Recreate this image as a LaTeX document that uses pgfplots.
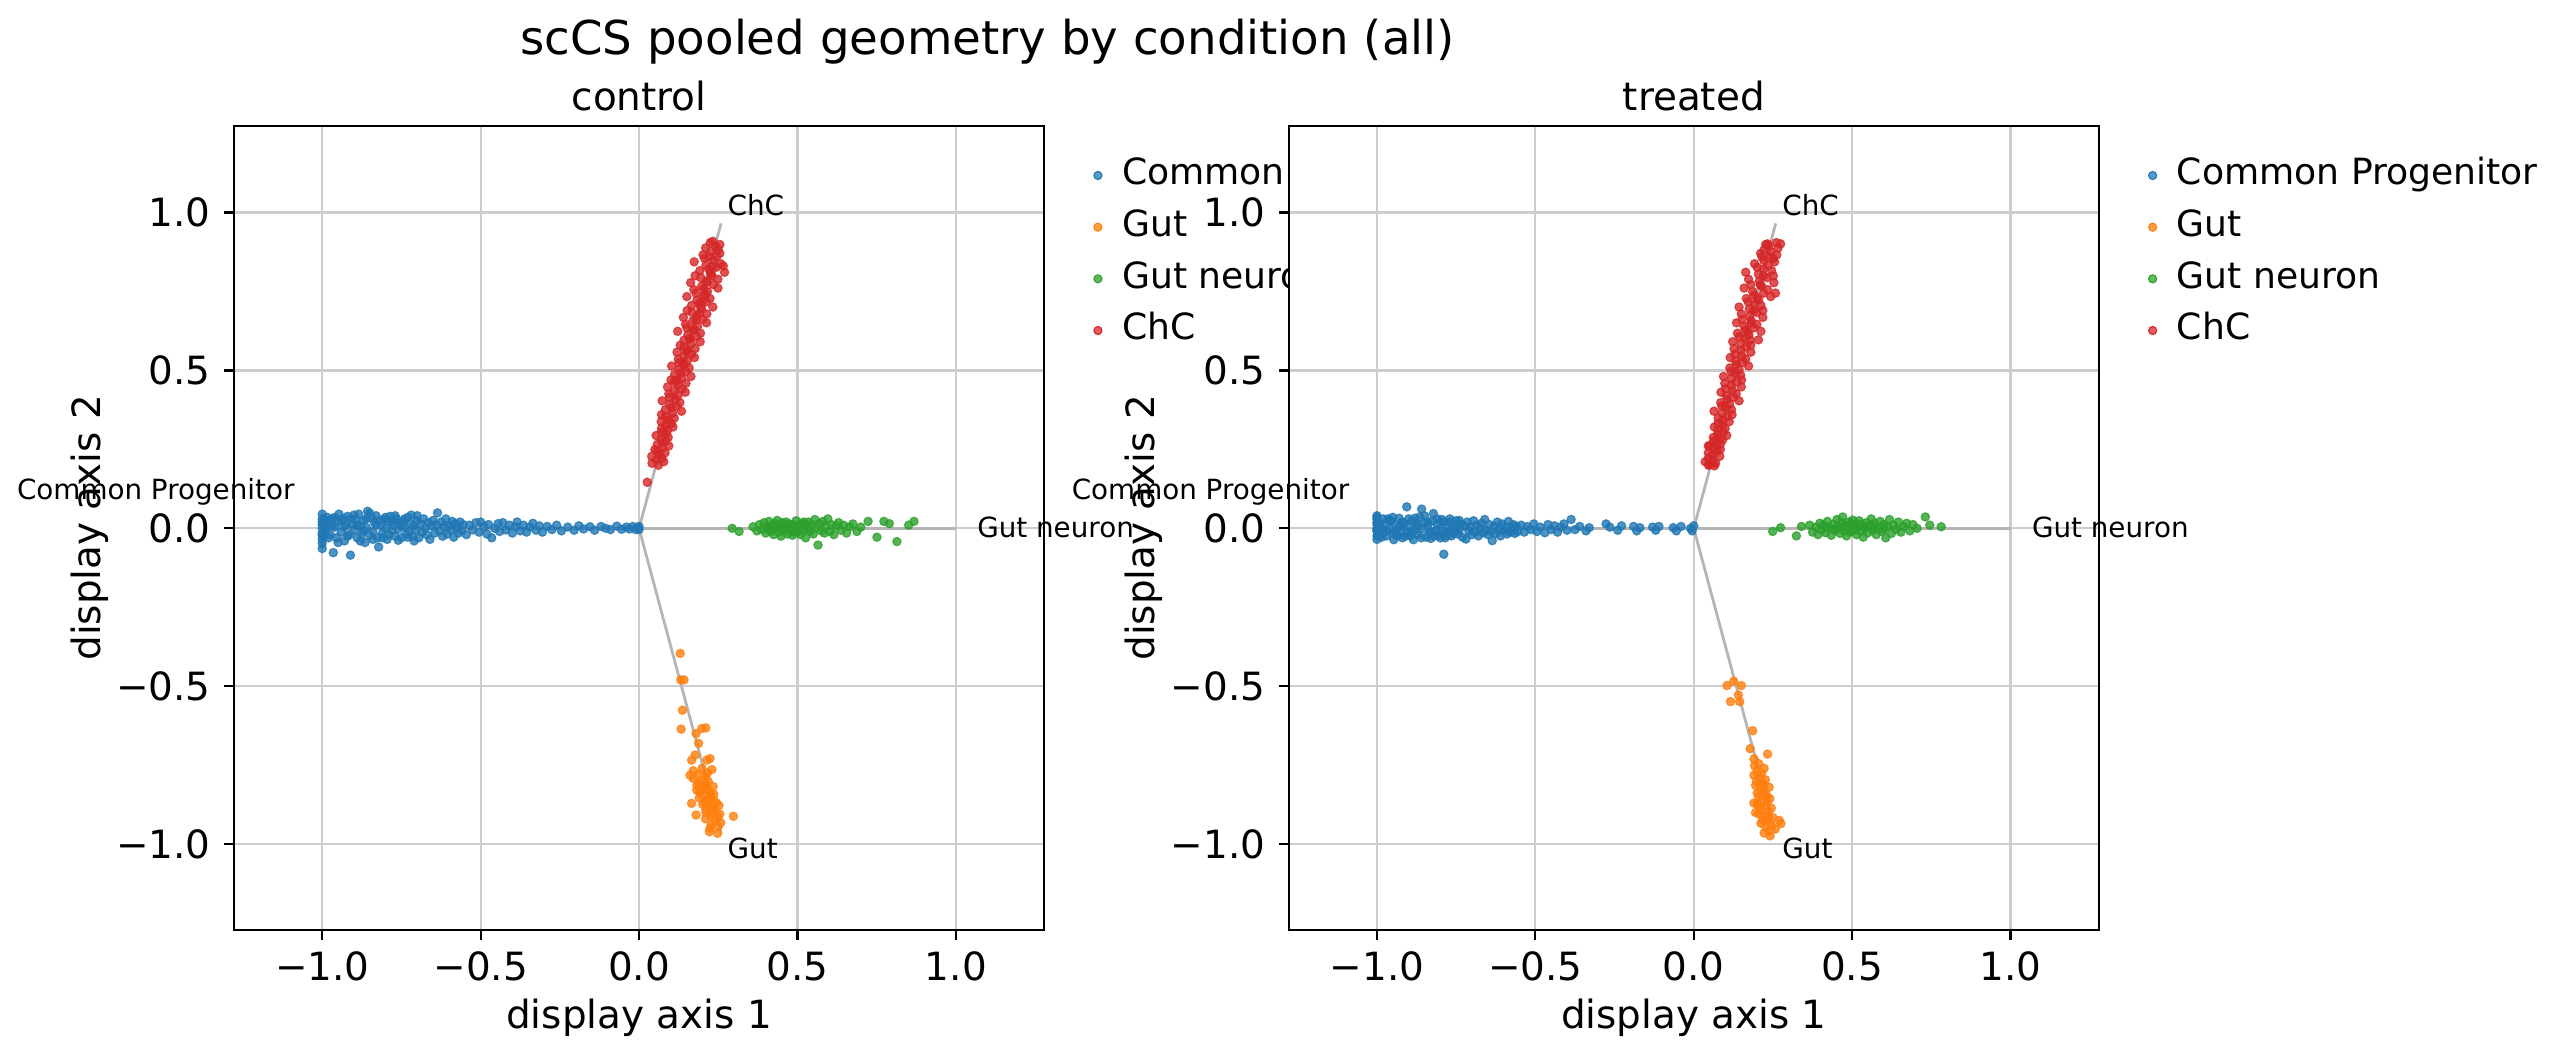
\documentclass[border=0pt]{standalone}
\usepackage{fontspec}
\setmainfont{DejaVu Sans}
\usepackage{pgfplots}
\pgfplotsset{compat=1.18}
\definecolor{cblue}{HTML}{1F77B4}
\definecolor{corange}{HTML}{FF7F0E}
\definecolor{cgreen}{HTML}{2CA02C}
\definecolor{cred}{HTML}{D62728}
\definecolor{gridc}{HTML}{CDCDCD}
\definecolor{rayc}{HTML}{B5B5B5}
\tikzset{ann/.style={inner sep=0pt, font=\fontsize{10}{12}\selectfont}}
\pgfplotsset{
  panel/.style={
    scale only axis, width=291.5pt, height=289.5pt,
    xmin=-1.278, xmax=1.278, ymin=-1.272, ymax=1.275,
    xtick={-1,-0.5,0,0.5,1}, ytick={-1,-0.5,0,0.5,1},
    xticklabels={−1.0,−0.5,0.0,0.5,1.0},
    yticklabels={−1.0,−0.5,0.0,0.5,1.0},
    grid=major, grid style={gridc, line width=0.8pt},
    axis line style={line width=0.8pt, black},
    tick pos=left, tick align=outside, major tick length=3.5pt,
    tick style={black, line width=0.8pt},
    tick label style={font=\fontsize{14}{16}\selectfont},
    xticklabel style={anchor=north, inner sep=0pt, text height=10.2pt, text depth=0pt},
    yticklabel style={anchor=east, inner sep=0pt, text height=10.2pt, text depth=0pt},
    xticklabel shift=4.2pt, yticklabel shift=4.8pt,
    xlabel={display axis 1}, ylabel={display axis 2},
    xlabel style={at={(axis description cs:0.5,-0.1223)}, anchor=base, inner sep=0pt, font=\fontsize{14}{16}\selectfont},
    ylabel style={at={(axis description cs:-0.1654,0.5)}, anchor=base, inner sep=0pt, font=\fontsize{14}{16}\selectfont},
    every axis title shift=0pt,
    title style={at={(axis description cs:0.5,1.0195)}, anchor=base, inner sep=0pt, font=\fontsize{14}{16}\selectfont},
    clip mode=individual,
    legend style={at={(axis description cs:1,1)}, anchor=north west, xshift=17.8pt, yshift=-11.8pt,
      draw=none, fill=none, inner sep=0pt, outer sep=0pt, row sep=0pt,
      font=\fontsize{13}{15}\selectfont,
      nodes={inner sep=0pt, text height=9.5pt, text depth=9.1pt},
      /tikz/every odd column/.style={column sep=7.1pt}},
    legend cell align=left,
    legend image code/.code={\fill[##1, fill opacity=0.75] (0pt,3.2pt) circle (1.45pt);},
  },
  pts/.style={only marks, mark=*, mark size=1.5pt, color=#1, mark options={draw=none, fill=#1, opacity=0.8}},
  ray/.style={rayc, line width=1pt, forget plot},
}
\begin{document}
\begin{tikzpicture}
\path[use as bounding box] (0,0) rectangle (923.76pt,380.88pt);
\node[anchor=base, inner sep=0pt, font=\fontsize{16.8}{20}\selectfont] at (355.5pt,361.3pt) {scCS pooled geometry by condition (all)};
% ---------------- control ----------------
\begin{axis}[panel, at={(84.3pt,46.1pt)}, anchor=south west, title={control}]
\addplot[ray] coordinates {(0,0) (-1,0)};
\addplot[ray] coordinates {(0,0) (1,0)};
\addplot[ray] coordinates {(0,0) (0.2588,0.9659)};
\addplot[ray] coordinates {(0,0) (0.2588,-0.9659)};
\addplot[pts=cblue] coordinates {
(-1.00,0.012) (-1.00,-0.015) (-1.00,0.030) (-1.00,-0.035) (-1.00,0.000) (-0.995,0.022) (-0.995,-0.025) (-0.99,0.005) (-0.99,-0.008) (-0.985,0.035) (-1.00,-0.064) (-0.98,0.018) (-0.975,-0.02) (-0.97,0.03) (-0.965,-0.077) (-0.96,0.004) (-0.955,-0.03) (-0.95,0.02) (-0.947,0.045) (-0.94,-0.012) (-0.935,0.03) (-0.93,-0.04) (-0.925,0.01) (-0.92,0.038) (-0.915,-0.02) (-0.911,-0.085) (-0.905,0.015) (-0.90,-0.005) (-0.895,0.03) (-0.89,-0.03) (-0.885,0.045) (-0.88,0.008) (-0.875,-0.018) (-0.87,0.025) (-0.865,-0.045) (-0.86,0.002) (-0.857,0.054) (-0.85,-0.022) (-0.845,0.035) (-0.84,-0.01) (-0.835,0.018) (-0.83,0.04) (-0.825,-0.03) (-0.822,-0.059) (-0.815,0.01) (-0.81,-0.015) (-0.805,0.028) (-0.80,0.0) (-0.795,-0.035) (-0.79,0.02) (-0.785,0.038) (-0.78,-0.008) (-0.775,0.012) (-0.77,-0.025) (-0.765,0.03) (-0.76,-0.002) (-0.755,0.016) (-0.75,-0.03) (-0.745,0.022) (-0.74,0.005) (-0.735,-0.018) (-0.73,0.035) (-0.725,-0.01) (-0.719,0.042) (-0.715,-0.025) (-0.71,0.01) (-0.705,-0.005) (-0.70,0.025) (-0.695,-0.03) (-0.69,0.015) (-0.685,-0.012) (-0.68,0.03) (-0.675,0.0) (-0.67,-0.02) (-0.665,0.018) (-0.66,-0.035) (-0.655,0.008) (-0.65,0.025) (-0.645,-0.015) (-0.64,0.012) (-0.636,0.049) (-0.63,-0.008) (-0.625,0.02) (-0.62,-0.025) (-0.615,0.005) (-0.61,0.03) (-0.605,-0.018) (-0.60,0.01) (-0.595,-0.005) (-0.59,0.022) (-0.585,-0.028) (-0.58,0.015) (-0.575,0.0) (-0.57,-0.015) (-0.565,0.02) (-0.56,-0.008) (-0.555,0.012)
(-0.99,0.025) (-0.98,-0.03) (-0.97,0.008) (-0.96,0.035) (-0.95,-0.045) (-0.94,0.025) (-0.93,0.005) (-0.92,-0.025) (-0.91,0.03) (-0.90,0.042) (-0.89,0.01) (-0.88,-0.04) (-0.87,-0.008) (-0.86,0.03) (-0.85,0.048) (-0.84,-0.035) (-0.83,0.012) (-0.82,0.025) (-0.81,-0.03) (-0.80,0.035) (-0.79,-0.02) (-0.78,0.022) (-0.77,0.04) (-0.76,-0.038) (-0.75,0.008) (-0.74,0.03) (-0.73,-0.028) (-0.72,0.015) (-0.71,-0.04) (-0.70,0.04) (-1.0,0.045) (-1.0,-0.048) (-1.0,-0.022) (-1.0,0.02)
(-0.545,-0.02) (-0.535,0.01) (-0.525,-0.005) (-0.515,0.018) (-0.505,-0.012) (-0.50,0.02) (-0.49,0.005) (-0.48,-0.018) (-0.475,0.012) (-0.465,-0.03) (-0.455,0.0) (-0.445,0.015) (-0.44,-0.01) (-0.43,0.018) (-0.42,-0.005) (-0.41,0.01) (-0.40,-0.015) (-0.39,0.005) (-0.385,0.02) (-0.375,-0.008) (-0.365,0.01) (-0.355,-0.012) (-0.345,0.004) (-0.335,0.016) (-0.325,-0.006) (-0.315,0.008) (-0.305,-0.012)
(-0.29,0.006) (-0.275,-0.004) (-0.26,0.01) (-0.245,-0.008) (-0.225,0.004) (-0.205,-0.006) (-0.19,0.008) (-0.175,-0.002) (-0.155,0.005) (-0.14,-0.006) (-0.12,0.006) (-0.105,0.0) (-0.09,-0.004) (-0.07,0.007) (-0.055,-0.003) (-0.04,0.004) (-0.03,-0.002) (-0.02,0.006) (-0.01,-0.004) (-0.005,0.002) (0.0,0.006) (0.0,-0.004)
};
\addlegendentry{Common Progenitor}
\addplot[pts=corange] coordinates {
(0.130,-0.396) (0.132,-0.480) (0.142,-0.480) (0.137,-0.576) (0.133,-0.636) (0.198,-0.634) (0.211,-0.632) (0.180,-0.650) (0.188,-0.681) (0.177,-0.718) (0.166,-0.734) (0.224,-0.729) (0.214,-0.734) (0.161,-0.782) (0.230,-0.764) (0.182,-0.829) (0.166,-0.871) (0.180,-0.908) (0.298,-0.912) (0.222,-0.961) (0.248,-0.966)
(0.199,-0.760) (0.171,-0.768) (0.216,-0.775) (0.187,-0.780) (0.210,-0.786) (0.171,-0.792) (0.202,-0.797) (0.219,-0.802) (0.188,-0.806) (0.210,-0.810) (0.183,-0.814) (0.234,-0.818) (0.202,-0.822) (0.216,-0.826) (0.193,-0.830) (0.221,-0.834) (0.192,-0.838) (0.236,-0.842) (0.206,-0.846) (0.230,-0.850) (0.190,-0.854) (0.220,-0.858) (0.237,-0.862) (0.206,-0.866) (0.228,-0.870) (0.201,-0.874) (0.252,-0.878) (0.220,-0.882) (0.234,-0.886) (0.211,-0.890) (0.239,-0.895) (0.211,-0.900) (0.255,-0.905) (0.226,-0.910) (0.249,-0.915) (0.210,-0.920) (0.240,-0.926) (0.258,-0.932) (0.228,-0.938) (0.250,-0.944) (0.224,-0.950)
(0.225,-0.84) (0.215,-0.86) (0.235,-0.88) (0.205,-0.82) (0.245,-0.87) (0.228,-0.90)
};
\addlegendentry{Gut}
\addplot[pts=cgreen] coordinates {
(0.294,0.000) (0.316,-0.010) (0.360,0.005) (0.372,-0.008) (0.380,0.012) (0.388,-0.004) (0.395,0.018) (0.400,-0.015) (0.405,0.004) (0.410,0.022) (0.415,-0.010) (0.420,0.008) (0.425,-0.020) (0.428,0.015) (0.432,0.000) (0.436,0.025) (0.440,-0.012) (0.445,0.010) (0.448,-0.025) (0.452,0.018) (0.456,0.002) (0.460,-0.008) (0.464,0.020) (0.468,-0.018) (0.472,0.006) (0.476,0.014) (0.480,-0.004) (0.484,-0.022) (0.488,0.012) (0.492,0.000) (0.496,0.024) (0.500,-0.012) (0.505,0.008) (0.510,-0.020) (0.514,0.016) (0.518,-0.006) (0.522,0.010) (0.526,-0.030) (0.530,0.004) (0.535,0.020) (0.540,-0.010) (0.545,0.012) (0.550,-0.018) (0.555,0.028) (0.560,0.002) (0.565,-0.053) (0.570,0.015) (0.575,-0.008) (0.580,0.022) (0.585,-0.015) (0.590,0.006) (0.596,0.030) (0.602,-0.010) (0.608,0.012) (0.615,-0.020) (0.622,0.008) (0.630,0.018) (0.638,-0.006) (0.646,0.010) (0.655,-0.015) (0.665,0.005) (0.675,0.014) (0.688,-0.010) (0.700,0.004) (0.723,0.022) (0.751,-0.028) (0.773,0.022) (0.790,0.015) (0.814,-0.042) (0.851,0.010) (0.868,0.022) (0.44,0.004) (0.47,-0.002) (0.50,0.006) (0.53,-0.004) (0.46,0.012) (0.49,-0.012) (0.52,0.02) (0.41,-0.002)
};
\addlegendentry{Gut neuron}
\addplot[pts=cred] coordinates {
(0.026,0.146) (0.061,0.200) (0.041,0.206) (0.078,0.211) (0.055,0.217) (0.072,0.222) (0.040,0.228) (0.064,0.233) (0.082,0.239) (0.057,0.244) (0.050,0.250) (0.074,0.255) (0.094,0.261) (0.058,0.266) (0.073,0.272) (0.085,0.277) (0.070,0.283) (0.092,0.288) (0.054,0.294) (0.084,0.299) (0.071,0.305) (0.090,0.310) (0.071,0.316) (0.107,0.321) (0.084,0.327) (0.102,0.332) (0.070,0.338) (0.093,0.343) (0.111,0.349) (0.083,0.354) (0.071,0.360) (0.106,0.365) (0.134,0.371) (0.083,0.376) (0.102,0.382) (0.119,0.387) (0.097,0.393) (0.129,0.398) (0.073,0.404) (0.115,0.409) (0.096,0.415) (0.123,0.420) (0.094,0.426) (0.146,0.431) (0.112,0.437) (0.136,0.442) (0.090,0.448) (0.123,0.453) (0.148,0.459) (0.112,0.464) (0.101,0.470) (0.135,0.475) (0.164,0.481) (0.112,0.486) (0.132,0.492) (0.148,0.497) (0.127,0.503) (0.158,0.508) (0.103,0.514) (0.144,0.519) (0.126,0.525) (0.152,0.530) (0.124,0.536) (0.175,0.541) (0.142,0.547) (0.166,0.552) (0.120,0.558) (0.153,0.563) (0.177,0.569) (0.142,0.574) (0.130,0.580) (0.165,0.585) (0.193,0.591) (0.142,0.596) (0.161,0.602) (0.182,0.607) (0.154,0.613) (0.194,0.618) (0.122,0.624) (0.175,0.629) (0.151,0.635) (0.185,0.640) (0.147,0.646) (0.213,0.651) (0.170,0.657) (0.201,0.662) (0.140,0.668) (0.183,0.673) (0.214,0.679) (0.167,0.684) (0.152,0.690) (0.197,0.695) (0.233,0.701) (0.166,0.706) (0.191,0.712) (0.212,0.717) (0.183,0.723) (0.224,0.728) (0.151,0.734) (0.205,0.739) (0.180,0.745) (0.216,0.750) (0.173,0.756) (0.249,0.761) (0.198,0.767) (0.234,0.772) (0.163,0.778) (0.213,0.783) (0.249,0.789) (0.195,0.794) (0.177,0.800) (0.228,0.805) (0.270,0.811) (0.192,0.816) (0.220,0.822) (0.244,0.827) (0.211,0.833) (0.258,0.838) (0.174,0.844) (0.235,0.849) (0.207,0.855) (0.245,0.860) (0.202,0.866) (0.255,0.871) (0.227,0.877) (0.250,0.882) (0.210,0.888) (0.242,0.893) (0.255,0.899) (0.225,0.905)
(0.233,0.909) (0.266,0.831) (0.20,0.72) (0.19,0.68) (0.215,0.78) (0.225,0.81) (0.205,0.76) (0.18,0.66) (0.17,0.63) (0.235,0.83) (0.22,0.86) (0.23,0.80) (0.195,0.70) (0.21,0.74) (0.15,0.56) (0.14,0.52) (0.12,0.47) (0.16,0.60)
};
\addlegendentry{ChC}
\node[ann, anchor=base west] at (axis cs:0.278,0.99) {ChC};
\node[ann, anchor=base west] at (axis cs:0.278,-1.045) {Gut};
\node[ann, anchor=base west] at (axis cs:1.066,-0.028) {Gut neuron};
\node[ann, anchor=base east] at (axis cs:-1.086,0.092) {Common Progenitor};
\end{axis}
% ---------------- treated ----------------
\begin{axis}[panel, at={(464.0pt,46.1pt)}, anchor=south west, title={treated}, axis background/.style={fill=white}]
\addplot[ray] coordinates {(0,0) (-1,0)};
\addplot[ray] coordinates {(0,0) (1,0)};
\addplot[ray] coordinates {(0,0) (0.2588,0.9659)};
\addplot[ray] coordinates {(0,0) (0.2588,-0.9659)};
\addplot[pts=cblue] coordinates {
(-1.00,-0.010) (-1.00,0.012) (-1.00,-0.024) (-1.00,0.028) (-1.00,0.000) (-0.995,-0.018) (-0.995,0.020) (-0.99,-0.004) (-0.99,0.006) (-0.985,-0.028) (-1.00,0.040) (-0.98,-0.014) (-0.975,0.016) (-0.97,-0.024) (-0.965,0.030) (-0.96,-0.003) (-0.955,0.024) (-0.95,-0.016) (-0.947,-0.036) (-0.94,0.010) (-0.935,-0.024) (-0.93,0.032) (-0.925,-0.008) (-0.92,-0.030) (-0.915,0.016) (-0.906,0.068) (-0.905,-0.012) (-0.90,0.004) (-0.895,-0.024) (-0.89,0.024) (-0.885,-0.036) (-0.88,-0.006) (-0.875,0.014) (-0.87,-0.02) (-0.865,0.036) (-0.86,-0.002) (-0.859,0.061) (-0.85,0.018) (-0.845,-0.028) (-0.84,0.008) (-0.835,-0.014) (-0.83,-0.032) (-0.825,0.024) (-0.822,0.047) (-0.815,-0.008) (-0.81,0.012) (-0.805,-0.022) (-0.80,0.0) (-0.795,0.028) (-0.789,-0.082) (-0.79,-0.016) (-0.785,-0.03) (-0.78,0.006) (-0.775,-0.01) (-0.77,0.02) (-0.765,-0.024) (-0.76,0.002) (-0.755,-0.013) (-0.75,0.024) (-0.745,-0.018) (-0.74,-0.004) (-0.735,0.014) (-0.73,-0.028) (-0.725,0.008) (-0.719,-0.034) (-0.715,0.02) (-0.71,-0.008) (-0.705,0.004) (-0.70,-0.02) (-0.695,0.024) (-0.69,-0.012) (-0.685,0.01) (-0.68,-0.024) (-0.675,0.0) (-0.67,0.016) (-0.665,-0.014) (-0.66,0.028) (-0.655,-0.006) (-0.65,-0.02) (-0.645,0.012) (-0.64,-0.01) (-0.636,-0.039) (-0.63,0.006) (-0.625,-0.016) (-0.62,0.02) (-0.615,-0.004) (-0.61,-0.024) (-0.605,0.014) (-0.60,-0.008) (-0.595,0.004) (-0.59,-0.018) (-0.585,0.022) (-0.58,-0.012) (-0.575,0.0) (-0.57,0.012) (-0.565,-0.016) (-0.56,0.006) (-0.555,-0.01)
(-0.99,-0.02) (-0.98,0.03) (-0.97,-0.008) (-0.96,0.025) (-0.95,0.035) (-0.94,-0.02) (-0.93,0.005) (-0.92,0.02) (-0.91,-0.025) (-0.90,0.03) (-0.89,-0.01) (-0.88,0.032) (-0.87,0.008) (-0.86,-0.03) (-0.85,0.04) (-0.84,0.02) (-0.83,-0.01) (-0.82,-0.025) (-0.81,0.03) (-0.80,-0.03) (-0.79,0.02) (-0.78,-0.022) (-0.77,0.03) (-0.76,-0.016) (-0.75,0.006) (-0.74,0.025) (-1.0,0.035) (-1.0,-0.035) (-1.0,0.018) (-1.0,-0.005)
(-0.545,0.01) (-0.535,-0.012) (-0.525,0.006) (-0.515,-0.004) (-0.505,0.014) (-0.495,-0.01) (-0.485,0.004) (-0.47,-0.014) (-0.46,0.012) (-0.45,-0.004) (-0.44,0.008) (-0.43,-0.012) (-0.42,0.004) (-0.41,0.014) (-0.40,-0.006) (-0.387,0.028) (-0.375,-0.004) (-0.36,0.006) (-0.34,-0.008) (-0.33,0.002) (-0.277,0.014) (-0.265,0.004) (-0.24,-0.006) (-0.228,0.008) (-0.19,0.006) (-0.18,-0.008) (-0.17,0.002) (-0.13,0.004) (-0.12,-0.006) (-0.11,0.006) (-0.065,0.002) (-0.055,-0.008) (-0.04,0.006) (-0.01,0.0) (-0.005,-0.008) (0.0,0.008)
};
\addlegendentry{Common Progenitor}
\addplot[pts=corange] coordinates {
(0.105,-0.498) (0.126,-0.484) (0.150,-0.498) (0.116,-0.549) (0.145,-0.549) (0.141,-0.528) (0.186,-0.641) (0.178,-0.698) (0.233,-0.715) (0.190,-0.73)
(0.205,-0.745) (0.192,-0.752) (0.222,-0.760) (0.200,-0.768) (0.214,-0.775) (0.190,-0.782) (0.208,-0.790) (0.226,-0.796) (0.198,-0.802) (0.215,-0.808) (0.195,-0.814) (0.238,-0.820) (0.210,-0.826) (0.222,-0.832) (0.200,-0.838) (0.228,-0.844) (0.205,-0.850) (0.240,-0.856) (0.215,-0.862) (0.232,-0.868) (0.200,-0.874) (0.225,-0.880) (0.245,-0.886) (0.212,-0.892) (0.235,-0.898) (0.205,-0.904) (0.228,-0.910) (0.250,-0.916) (0.218,-0.922) (0.238,-0.928) (0.212,-0.934) (0.245,-0.940) (0.228,-0.946) (0.258,-0.952) (0.236,-0.958) (0.241,-0.974) (0.222,-0.965) (0.275,-0.935) (0.270,-0.925) (0.195,-0.90) (0.19,-0.87) (0.232,-0.85) (0.22,-0.81) (0.21,-0.88) (0.225,-0.92)
};
\addlegendentry{Gut}
\addplot[pts=cgreen] coordinates {
(0.249,-0.010) (0.274,0.002) (0.324,-0.024) (0.340,0.006) (0.366,0.010) (0.375,-0.012) (0.385,0.004) (0.392,-0.020) (0.398,0.016) (0.404,-0.004) (0.410,0.010) (0.416,-0.014) (0.422,0.022) (0.428,0.000) (0.434,-0.022) (0.440,0.012) (0.446,-0.006) (0.452,0.028) (0.458,0.004) (0.462,-0.016) (0.466,0.018) (0.470,0.036) (0.474,-0.008) (0.478,0.010) (0.482,-0.024) (0.486,0.002) (0.490,0.020) (0.494,-0.012) (0.498,0.008) (0.502,0.026) (0.506,-0.004) (0.510,0.014) (0.514,-0.020) (0.518,0.006) (0.522,0.024) (0.526,-0.010) (0.530,0.012) (0.535,-0.028) (0.540,0.004) (0.545,0.018) (0.550,-0.014) (0.555,0.008) (0.560,0.030) (0.565,-0.006) (0.570,0.016) (0.576,-0.020) (0.582,0.002) (0.588,0.022) (0.594,-0.010) (0.600,0.012) (0.606,-0.030) (0.612,0.006) (0.618,0.028) (0.624,-0.016) (0.630,0.010) (0.638,-0.004) (0.646,0.020) (0.654,-0.012) (0.662,0.006) (0.672,0.016) (0.682,-0.008) (0.692,0.012) (0.705,0.000) (0.731,0.036) (0.745,0.010) (0.781,0.005) (0.45,0.000) (0.48,0.006) (0.51,-0.002) (0.54,0.000) (0.57,0.004) (0.42,0.004) (0.60,-0.002) (0.5,-0.008)
};
\addlegendentry{Gut neuron}
\addplot[pts=cred] coordinates {
(0.047,0.200) (0.069,0.206) (0.036,0.211) (0.061,0.217) (0.046,0.222) (0.082,0.228) (0.060,0.233) (0.046,0.239) (0.073,0.244) (0.084,0.250) (0.062,0.255) (0.046,0.261) (0.084,0.266) (0.073,0.272) (0.063,0.277) (0.082,0.283) (0.062,0.288) (0.104,0.294) (0.076,0.299) (0.093,0.305) (0.076,0.310) (0.099,0.316) (0.065,0.321) (0.092,0.327) (0.076,0.332) (0.112,0.338) (0.091,0.343) (0.077,0.349) (0.107,0.354) (0.121,0.360) (0.090,0.365) (0.064,0.371) (0.119,0.376) (0.102,0.382) (0.089,0.387) (0.113,0.393) (0.085,0.398) (0.143,0.404) (0.105,0.409) (0.126,0.415) (0.103,0.420) (0.134,0.426) (0.086,0.431) (0.122,0.437) (0.100,0.442) (0.150,0.448) (0.119,0.453) (0.098,0.459) (0.136,0.464) (0.151,0.470) (0.119,0.475) (0.094,0.481) (0.148,0.486) (0.132,0.492) (0.118,0.497) (0.143,0.503) (0.114,0.508) (0.173,0.514) (0.134,0.519) (0.156,0.525) (0.132,0.530) (0.164,0.536) (0.115,0.541) (0.152,0.547) (0.130,0.552) (0.180,0.558) (0.149,0.563) (0.127,0.569) (0.166,0.574) (0.180,0.580) (0.149,0.585) (0.123,0.591) (0.178,0.596) (0.161,0.602) (0.144,0.607) (0.174,0.613) (0.138,0.618) (0.212,0.624) (0.163,0.629) (0.189,0.635) (0.159,0.640) (0.199,0.646) (0.135,0.651) (0.182,0.657) (0.153,0.662) (0.218,0.668) (0.177,0.673) (0.150,0.679) (0.199,0.684) (0.218,0.690) (0.175,0.695) (0.143,0.701) (0.212,0.706) (0.191,0.712) (0.172,0.717) (0.205,0.723) (0.166,0.728) (0.243,0.734) (0.191,0.739) (0.220,0.745) (0.186,0.750) (0.233,0.756) (0.159,0.761) (0.214,0.767) (0.180,0.772) (0.253,0.778) (0.207,0.783) (0.173,0.789) (0.231,0.794) (0.251,0.800) (0.204,0.805) (0.164,0.811) (0.246,0.816) (0.220,0.822) (0.200,0.827) (0.235,0.833) (0.192,0.838) (0.255,0.844) (0.221,0.849) (0.251,0.855) (0.215,0.860) (0.262,0.866) (0.211,0.871) (0.243,0.877) (0.222,0.882) (0.266,0.888) (0.236,0.893) (0.227,0.899) (0.261,0.905)
(0.047,0.201) (0.055,0.205) (0.065,0.198) (0.05,0.262) (0.091,0.28) (0.204,0.597) (0.258,0.745) (0.233,0.901) (0.274,0.901) (0.2,0.73) (0.21,0.77) (0.19,0.69) (0.18,0.65) (0.22,0.8) (0.17,0.62) (0.24,0.86)
};
\addlegendentry{ChC}
\node[ann, anchor=base west] at (axis cs:0.278,0.99) {ChC};
\node[ann, anchor=base west] at (axis cs:0.278,-1.045) {Gut};
\node[ann, anchor=base west] at (axis cs:1.066,-0.028) {Gut neuron};
\node[ann, anchor=base east] at (axis cs:-1.086,0.092) {Common Progenitor};
\end{axis}
\end{tikzpicture}
\end{document}
